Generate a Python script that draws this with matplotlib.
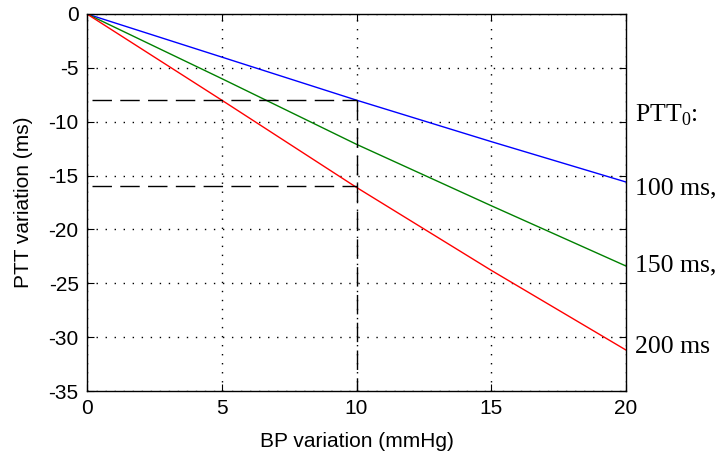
import matplotlib
matplotlib.use('Agg')
import matplotlib.pyplot as plt

# BP variation (mmHg) and PTT variation (ms) for three baseline PTT values
bp = [0, 5, 10, 15, 20]
ptt_100 = [0, -4.0, -8.0, -11.85, -15.6]
ptt_150 = [0, -6.0, -12.1, -17.8, -23.4]
ptt_200 = [0, -8.0, -16.1, -23.8, -31.2]

series_labels = ['100 ms,', '150 ms,', '200 ms']
label_y = [-16.2, -23.3, -30.9]

plt.rcParams['font.family'] = ['Liberation Sans', 'DejaVu Sans']
plt.rcParams['axes.unicode_minus'] = False
plt.rcParams['mathtext.fontset'] = 'custom'
plt.rcParams['mathtext.rm'] = 'Liberation Serif'

fig = plt.figure(figsize=(7.19, 4.57), dpi=100)
ax = fig.add_axes([0.121, 0.1444, 0.7497, 0.825])

ax.plot(bp, ptt_100, color='#0000ff', lw=1)
ax.plot(bp, ptt_150, color='#008000', lw=1)
ax.plot(bp, ptt_200, color='#ff0000', lw=1)

# reference lines at BP = 10 mmHg
dash = (14, 6)
ax.plot([0.2, bp[2]], [ptt_100[2], ptt_100[2]], color='k', lw=1, dashes=dash)
ax.plot([0.2, bp[2]], [-16, -16], color='k', lw=1, dashes=dash)
ax.plot([bp[2], bp[2]], [ptt_100[2], -35], color='k', lw=1, dashes=dash)

ax.set_xlim(0, 20)
ax.set_ylim(-35, 0)
ax.set_xticks([0, 5, 10, 15, 20])
ax.set_yticks([-35, -30, -25, -20, -15, -10, -5, 0])
ax.grid(True, color='black', ls=(0, (1, 5.5)), lw=1)
ax.tick_params(direction='in', top=True, right=True, length=5, labelsize=15, pad=6)
for s in ax.spines.values():
    s.set_linewidth(1)
ax.set_xlabel('BP variation (mmHg)', fontsize=15, labelpad=10)
ax.set_ylabel('PTT variation (ms)', fontsize=15, labelpad=11)

ax.text(20.35, -9.4, r'PTT$_{\mathrm{0}}$:', fontsize=18.5, family='Liberation Serif',
        va='center', ha='left', clip_on=False)
for lab, yy in zip(series_labels, label_y):
    ax.text(20.35, yy, lab, fontsize=18.5, family='Liberation Serif',
            va='center', ha='left', clip_on=False)

fig.savefig('out.png', dpi=100)
